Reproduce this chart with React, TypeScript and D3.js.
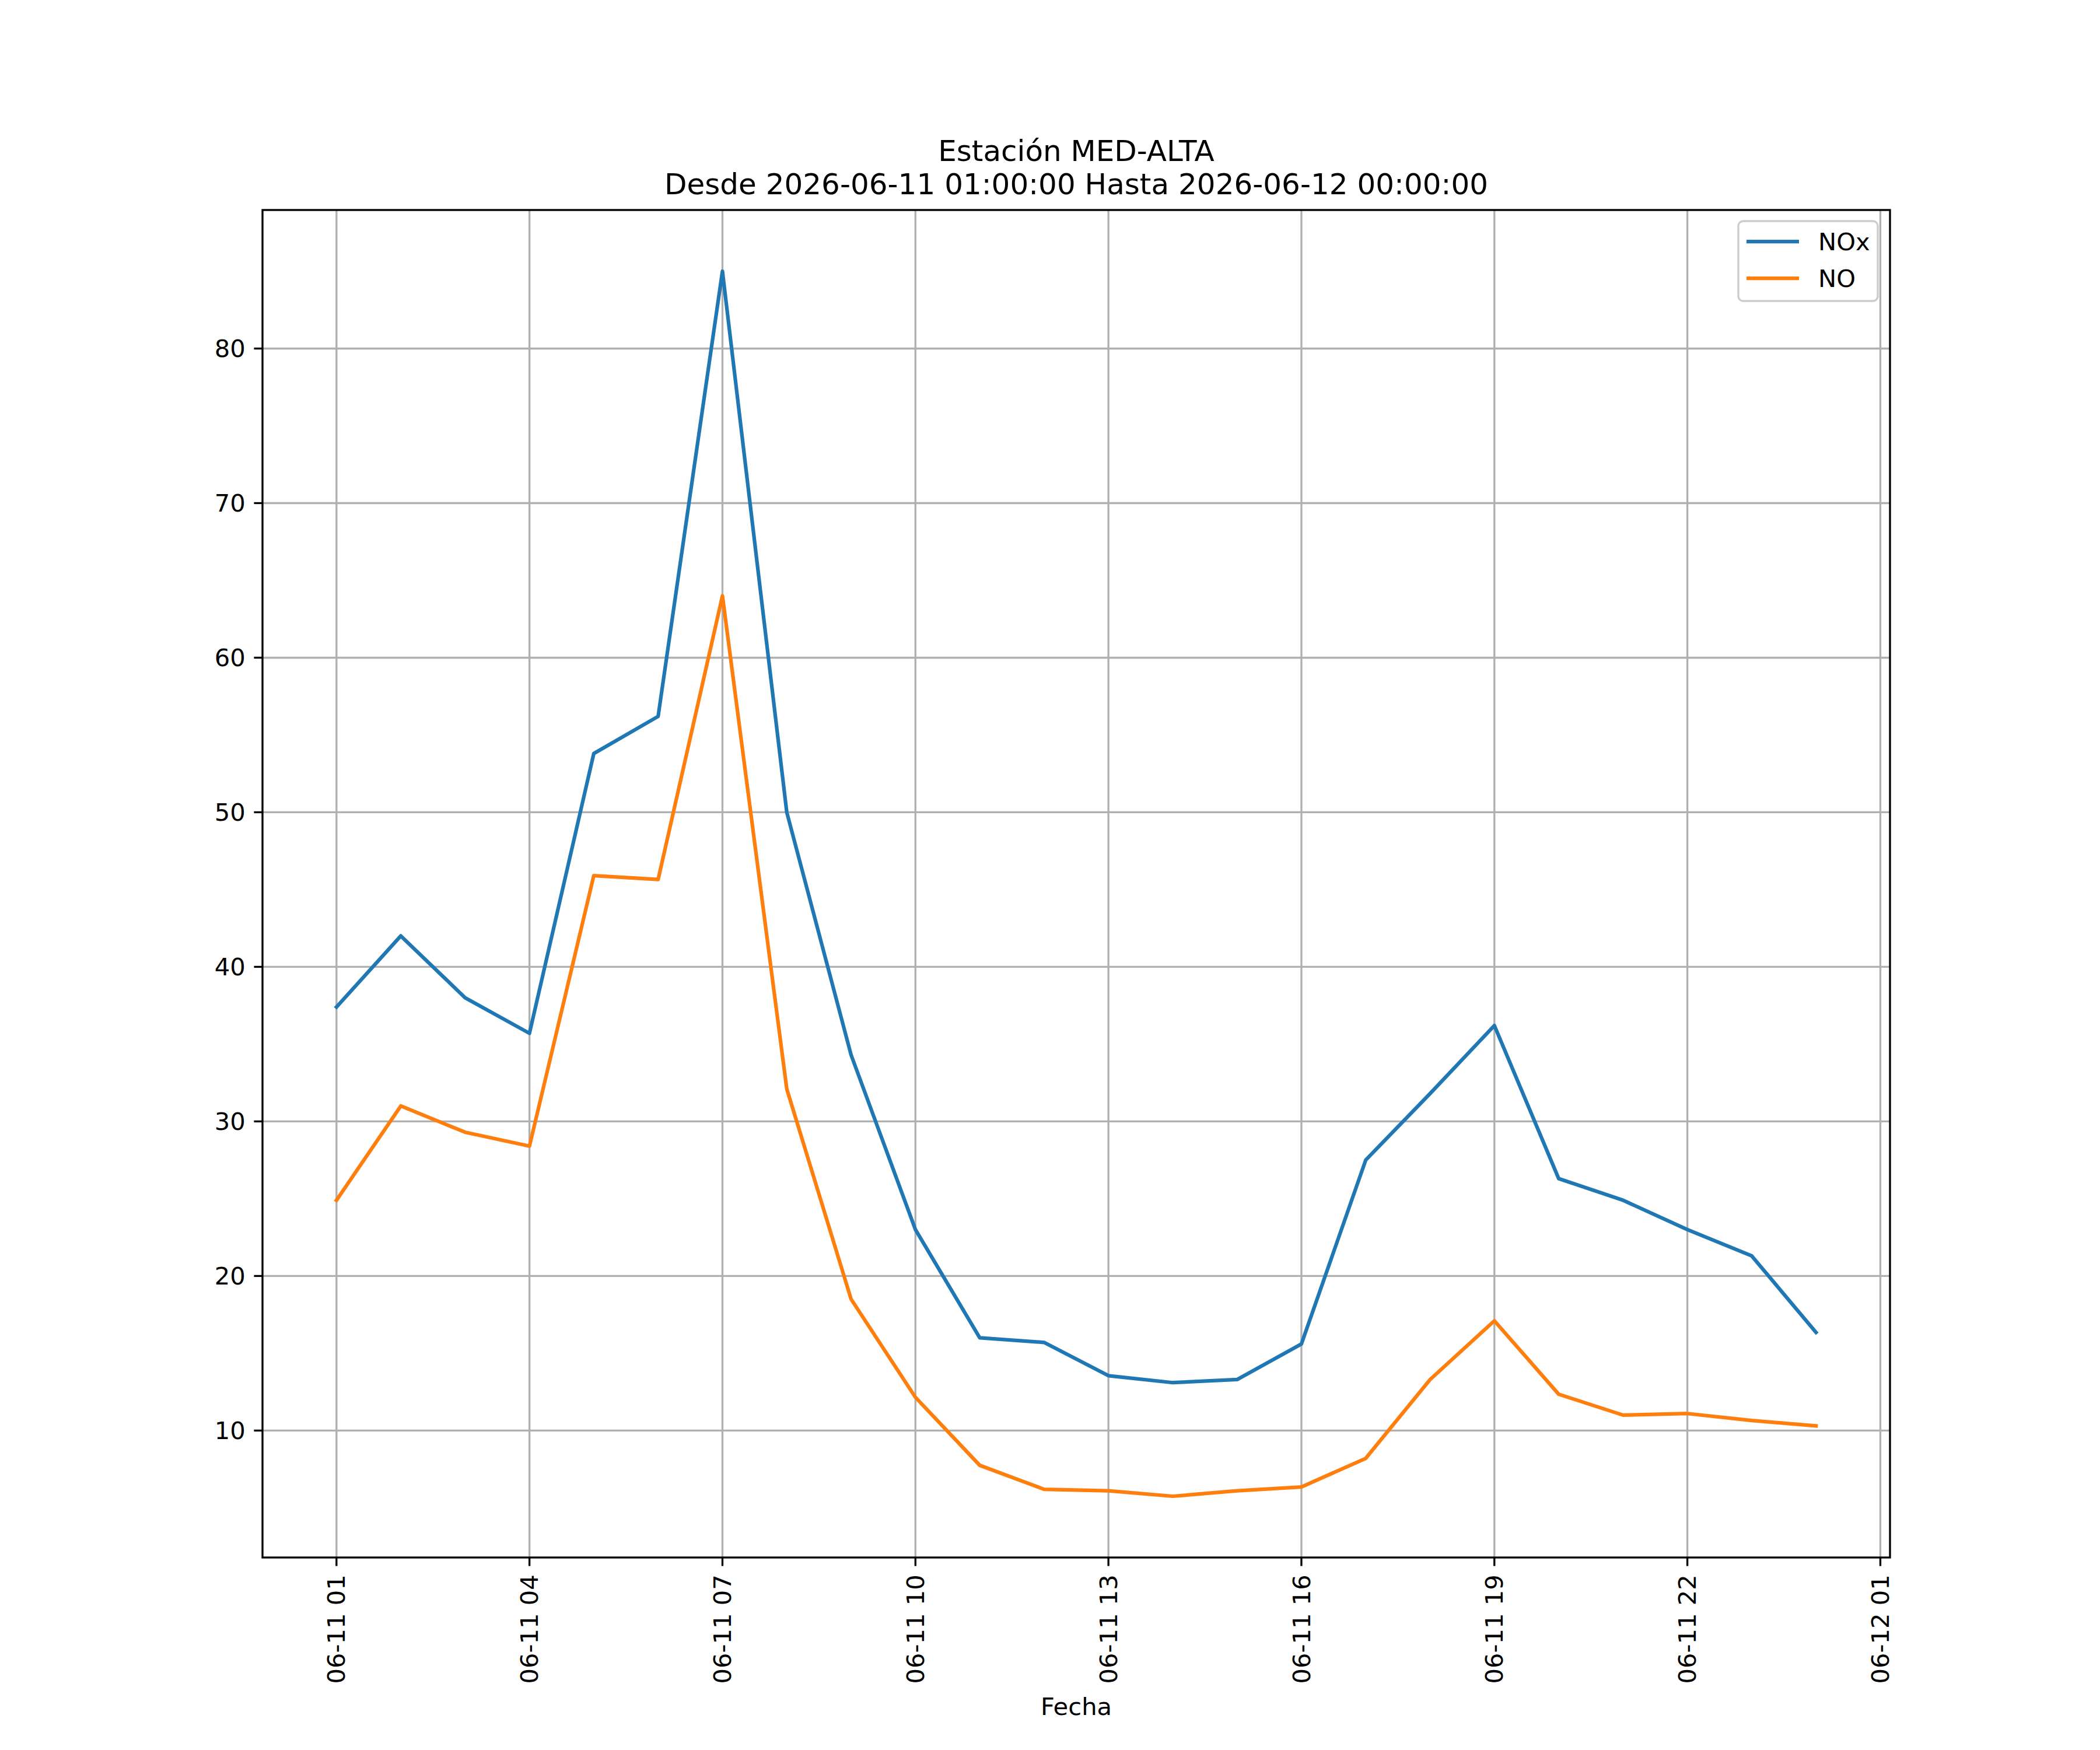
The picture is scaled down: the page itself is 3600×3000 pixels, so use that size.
import { useRef, useEffect } from 'react';
import * as d3 from 'd3';

// horas de medición (UTC)
const hours = [
  "2026-06-11T01:00:00Z", "2026-06-11T02:00:00Z", "2026-06-11T03:00:00Z", "2026-06-11T04:00:00Z",
  "2026-06-11T05:00:00Z", "2026-06-11T06:00:00Z", "2026-06-11T07:00:00Z", "2026-06-11T08:00:00Z",
  "2026-06-11T09:00:00Z", "2026-06-11T10:00:00Z", "2026-06-11T11:00:00Z", "2026-06-11T12:00:00Z",
  "2026-06-11T13:00:00Z", "2026-06-11T14:00:00Z", "2026-06-11T15:00:00Z", "2026-06-11T16:00:00Z",
  "2026-06-11T17:00:00Z", "2026-06-11T18:00:00Z", "2026-06-11T19:00:00Z", "2026-06-11T20:00:00Z",
  "2026-06-11T21:00:00Z", "2026-06-11T22:00:00Z", "2026-06-11T23:00:00Z", "2026-06-12T00:00:00Z",
];

const noxValues = [
  37.4, 42.0, 38.0, 35.7, 53.8, 56.2, 85.0, 50.0, 34.3, 23.0, 16.0, 15.7,
  13.55, 13.1, 13.3, 15.6, 27.5, 31.8, 36.2, 26.3, 24.9, 23.0, 21.3, 16.35,
];

const noValues = [
  24.9, 31.0, 29.3, 28.4, 45.9, 45.65, 64.0, 32.1, 18.5, 12.15, 7.75, 6.2,
  6.1, 5.75, 6.1, 6.35, 8.2, 13.3, 17.1, 12.35, 11.0, 11.1, 10.65, 10.3,
];

const xTickTimes = [
  "2026-06-11T01:00:00Z", "2026-06-11T04:00:00Z", "2026-06-11T07:00:00Z",
  "2026-06-11T10:00:00Z", "2026-06-11T13:00:00Z", "2026-06-11T16:00:00Z",
  "2026-06-11T19:00:00Z", "2026-06-11T22:00:00Z", "2026-06-12T01:00:00Z",
];

const yTicks = [10, 20, 30, 40, 50, 60, 70, 80];

const seriesNames = ["NOx", "NO"];
const seriesColors = ["#1f77b4", "#ff7f0e"];

const titleLines = ["Estación MED-ALTA", "Desde 2026-06-11 01:00:00 Hasta 2026-06-12 00:00:00"];

const WIDTH = 3600;
const HEIGHT = 3000;
const PT = 300 / 72; // px por punto (dpi 300)

export default function App() {
  const svgRef = useRef<SVGSVGElement | null>(null);

  useEffect(() => {
    const svg = d3.select(svgRef.current);
    svg.selectAll("*").remove();
    svg.attr("width", WIDTH).attr("height", HEIGHT);

    const font = "DejaVu Sans";
    const fs = 10 * PT;

    // área de ejes (parámetros por defecto de matplotlib)
    const left = 0.125 * WIDTH, right = 0.9 * WIDTH;
    const top = 0.12 * HEIGHT, bottom = 0.89 * HEIGHT;

    svg.append("rect").attr("width", WIDTH).attr("height", HEIGHT).attr("fill", "white");

    const times = hours.map((h) => new Date(h));
    const t0 = +times[0], t1 = +times[times.length - 1];
    const xPad = (t1 - t0) * 0.05;
    const xScale = d3.scaleUtc()
      .domain([new Date(t0 - xPad), new Date(t1 + xPad)])
      .range([left, right]);

    const all = noxValues.concat(noValues);
    const yMin = d3.min(all) || 0;
    const yMax = d3.max(all) || 0;
    const yPad = (yMax - yMin) * 0.05;
    const yScale = d3.scaleLinear()
      .domain([yMin - yPad, yMax + yPad])
      .range([bottom, top]);

    const g = svg.append("g");

    // grid
    const xTicks = xTickTimes.map((t) => new Date(t));
    g.selectAll(".vgrid").data(xTicks).enter().append("line")
      .attr("x1", (d) => xScale(d)).attr("x2", (d) => xScale(d))
      .attr("y1", top).attr("y2", bottom)
      .attr("stroke", "#b0b0b0").attr("stroke-width", 0.8 * PT);
    g.selectAll(".hgrid").data(yTicks).enter().append("line")
      .attr("x1", left).attr("x2", right)
      .attr("y1", (d) => yScale(d)).attr("y2", (d) => yScale(d))
      .attr("stroke", "#b0b0b0").attr("stroke-width", 0.8 * PT);

    // líneas
    const line = d3.line<number>()
      .x((_, i) => xScale(times[i]))
      .y((d) => yScale(d));
    [noxValues, noValues].forEach((vals, i) => {
      g.append("path")
        .attr("d", line(vals) || "")
        .attr("fill", "none")
        .attr("stroke", seriesColors[i])
        .attr("stroke-width", 1.5 * PT)
        .attr("stroke-linejoin", "round")
        .attr("stroke-linecap", "square");
    });

    // marco
    g.append("rect")
      .attr("x", left).attr("y", top)
      .attr("width", right - left).attr("height", bottom - top)
      .attr("fill", "none").attr("stroke", "black").attr("stroke-width", 0.8 * PT);

    // ticks x
    const tickLen = 3.5 * PT, tickPad = 3.5 * PT;
    const fmt = d3.utcFormat("%m-%d %H");
    xTicks.forEach((d) => {
      const x = xScale(d);
      g.append("line")
        .attr("x1", x).attr("x2", x).attr("y1", bottom).attr("y2", bottom + tickLen)
        .attr("stroke", "black").attr("stroke-width", 0.8 * PT);
      g.append("text")
        .attr("transform", `translate(${x},${bottom + tickLen + tickPad}) rotate(-90)`)
        .attr("text-anchor", "end")
        .attr("dy", "0.35em")
        .style("font-family", font).style("font-size", `${fs}px`)
        .text(fmt(d));
    });

    // ticks y
    yTicks.forEach((d) => {
      const y = yScale(d);
      g.append("line")
        .attr("x1", left - tickLen).attr("x2", left).attr("y1", y).attr("y2", y)
        .attr("stroke", "black").attr("stroke-width", 0.8 * PT);
      g.append("text")
        .attr("x", left - tickLen - tickPad).attr("y", y)
        .attr("dy", "0.35em")
        .attr("text-anchor", "end")
        .style("font-family", font).style("font-size", `${fs}px`)
        .text(d);
    });

    // etiqueta eje x
    svg.append("text")
      .attr("x", (left + right) / 2).attr("y", 2940)
      .attr("text-anchor", "middle")
      .style("font-family", font).style("font-size", `${fs}px`)
      .text("Fecha");

    // título
    titleLines.forEach((t, i) => {
      svg.append("text")
        .attr("x", (left + right) / 2)
        .attr("y", top - 6 * PT - 2 - (titleLines.length - 1 - i) * 57)
        .attr("text-anchor", "middle")
        .style("font-family", font).style("font-size", `${12 * PT}px`)
        .text(t);
    });

    // leyenda
    const lg = svg.append("g").attr("transform", `translate(${right - 260},${top + 19})`);
    lg.append("rect")
      .attr("width", 239).attr("height", 137)
      .attr("rx", 0.2 * fs).attr("ry", 0.2 * fs)
      .attr("fill", "white").attr("fill-opacity", 0.8)
      .attr("stroke", "#cccccc").attr("stroke-width", 0.8 * PT);
    seriesNames.forEach((name, i) => {
      const y = 35 + i * 63;
      lg.append("line")
        .attr("x1", 14).attr("x2", 104).attr("y1", y).attr("y2", y)
        .attr("stroke", seriesColors[i]).attr("stroke-width", 1.5 * PT);
      lg.append("text")
        .attr("x", 137).attr("y", y)
        .attr("dy", "0.35em")
        .style("font-family", font).style("font-size", `${fs}px`)
        .text(name);
    });
  }, []);

  return <svg ref={svgRef} style={{ position: "absolute", left: 0, top: 0, display: "block" }}></svg>;
}
